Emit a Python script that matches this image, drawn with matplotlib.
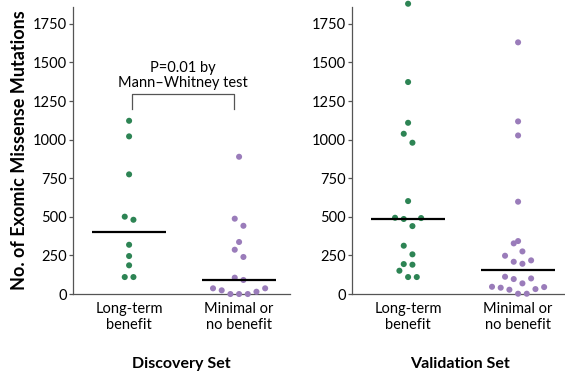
import numpy as np
import matplotlib.pyplot as plt

plt.rcParams['font.family'] = ['Lato', 'DejaVu Sans']

# values (exomic missense mutations per patient)
disc_long = [1122, 1021, 775, 501, 481, 319, 246, 186, 110, 110]
disc_min = [889, 488, 442, 337, 287, 240, 106, 91, 37, 24, 0, 0, 0, 15, 37]
val_long = [1880, 1373, 1109, 1038, 980, 602, 494, 486, 492, 440, 313, 257,
            194, 190, 151, 110, 110]
val_min = [1630, 1118, 1027, 598, 343, 328, 276, 248, 218, 209, 196, 112, 101,
           97, 69, 47, 45, 41, 32, 28, 2, 2]
medians = {'Discovery Set': (401, 93), 'Validation Set': (486, 155)}
groups = ['Long-term\nbenefit', 'Minimal or\nno benefit']

green = '#2d8454'
purple = '#9a7cba'
axis_col = '#555555'


def row_offsets(vals, step=0.079, gap=58):
    # Prism-style scatter: bin close values into a row, spread row symmetrically
    vals = np.asarray(vals, float)
    order = np.argsort(vals, kind='stable')
    off = np.zeros(len(vals))
    i = 0
    while i < len(order):
        j = i
        while j + 1 < len(order) and vals[order[j + 1]] - vals[order[i]] <= gap:
            j += 1
        row = order[i:j + 1]
        k = len(row)
        if k % 2:
            pos = [0] + [s * m for m in range(1, k) for s in (1, -1)]
        else:
            pos = [s * (m + 0.5) for m in range(k) for s in (1, -1)]
        for idx, p in zip(row, pos[:k]):
            off[idx] = p * step
        i = j + 1
    return off


fig = plt.figure(figsize=(5.65, 3.76), dpi=100)
ax1 = fig.add_axes([0.1292, 0.218, 0.3835, 0.763])
ax2 = fig.add_axes([0.623, 0.218, 0.3835, 0.763])

for ax, title, (lg, mn) in [(ax1, 'Discovery Set', (disc_long, disc_min)),
                            (ax2, 'Validation Set', (val_long, val_min))]:
    for xi, vals, col in [(0, lg, green), (1, mn, purple)]:
        ax.scatter(xi + row_offsets(vals), vals, s=19, color=col,
                   edgecolors='none', clip_on=False, zorder=3)
        ax.hlines(medians[title][xi], xi - 0.336, xi + 0.336, color='black',
                  lw=1.6, zorder=4)
    ax.set_xlim(-0.51, 1.46)
    ax.set_ylim(0, 1858)
    ax.set_yticks([0, 250, 500, 750, 1000, 1250, 1500, 1750])
    ax.set_xticks([0, 1])
    ax.set_xticklabels(groups, fontsize=10.5, linespacing=1.15)
    ax.tick_params(axis='x', length=0, pad=6)
    ax.tick_params(axis='y', length=3, width=0.9, color=axis_col, labelsize=10.5, pad=1.5)
    for s in ['top', 'right']:
        ax.spines[s].set_visible(False)
    for s in ['left', 'bottom']:
        ax.spines[s].set_color(axis_col)
        ax.spines[s].set_linewidth(0.9)
    ax.set_xlabel(title, fontsize=11.5, fontweight='bold', labelpad=18)

ax1.set_ylabel('No. of Exomic Missense Mutations', fontsize=13,
               fontweight='bold', labelpad=3)

# significance bracket
ax1.plot([0.03, 0.03, 0.95, 0.95], [1198, 1295, 1295, 1198], color=axis_col, lw=0.9)
ax1.text(0.49, 1320, 'P=0.01 by\nMann\u2013Whitney test', ha='center', va='bottom',
         fontsize=10.5, linespacing=1.15)

fig.savefig('out.png', dpi=100)
